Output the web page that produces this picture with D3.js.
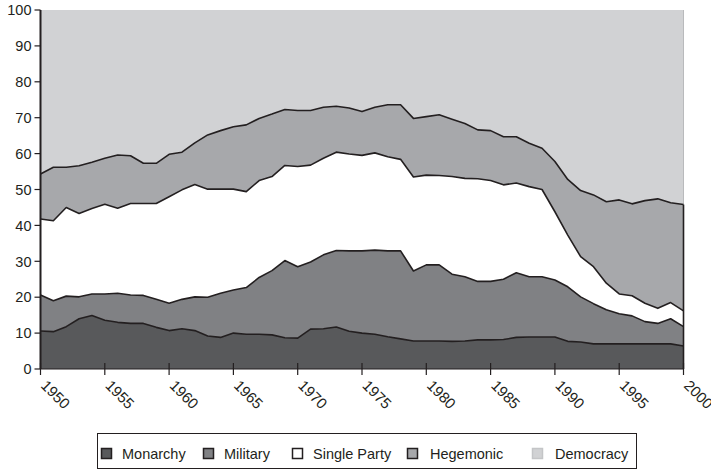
<!DOCTYPE html>
<meta charset="utf-8">
<html>
    <head>
        <title>Regime types 1950-2000</title>
        <script src="https://d3js.org/d3.v7.min.js"></script>
        <style>
            body {
              margin: 0;
              background: #ffffff;
              font-family: "Liberation Sans", Arial, Helvetica, sans-serif;
            }
            text {
              fill: #231f20;
            }
        </style>
    </head>
    <body>
        <div id="chart"></div>
        <script>
            // share of countries by regime type, 1950-2000
            var years = d3.range(1950, 2001);
            var monarchy = [10.6, 10.4, 11.8, 14.0, 14.9, 13.6, 13.0, 12.7, 12.7, 11.6,
                            10.7, 11.2, 10.7, 9.2, 8.8, 10.0, 9.7, 9.7, 9.5, 8.7,
                            8.6, 11.1, 11.2, 11.7, 10.5, 10.0, 9.7, 9.0, 8.4, 7.8,
                            7.8, 7.8, 7.7, 7.8, 8.1, 8.1, 8.2, 8.8, 8.9, 8.9,
                            8.9, 7.7, 7.5, 7.0, 7.0, 7.0, 7.0, 7.0, 7.0, 7.0, 6.4];
            var military = [10.0, 8.6, 8.5, 6.1, 6.0, 7.3, 8.1, 7.9, 7.8, 7.8,
                            7.6, 8.2, 9.4, 10.8, 12.3, 12.0, 13.0, 15.8, 17.9, 21.5,
                            19.9, 18.7, 20.6, 21.3, 22.4, 22.9, 23.4, 23.9, 24.5, 19.5,
                            21.2, 21.2, 18.7, 17.9, 16.3, 16.3, 16.8, 18.0, 16.8, 16.8,
                            15.9, 15.2, 12.6, 11.2, 9.5, 8.4, 7.8, 6.2, 5.7, 7.0, 5.4];
            var singleParty = [21.2, 22.3, 24.7, 23.2, 23.8, 25.0, 23.7, 25.5, 25.6, 26.7,
                            29.7, 30.5, 31.3, 30.1, 29.0, 28.1, 26.7, 27.0, 26.2, 26.5,
                            27.9, 27.0, 26.9, 27.4, 27.0, 26.6, 27.1, 26.2, 25.5, 26.2,
                            25.0, 24.9, 27.2, 27.4, 28.6, 28.1, 26.3, 25.0, 25.1, 24.3,
                            19.0, 14.4, 11.2, 10.3, 7.4, 5.5, 5.6, 5.1, 4.2, 4.5, 4.4];
            var hegemonic = [12.5, 14.9, 11.2, 13.3, 12.9, 12.8, 14.8, 13.3, 11.2, 11.2,
                            11.8, 10.5, 11.6, 15.1, 16.3, 17.4, 18.6, 17.3, 17.4, 15.6,
                            15.6, 15.2, 14.2, 12.8, 12.8, 12.2, 12.7, 14.5, 15.2, 16.3,
                            16.3, 16.9, 16.0, 15.3, 13.6, 13.9, 13.4, 12.9, 12.1, 11.5,
                            14.0, 15.5, 18.4, 20.0, 22.7, 26.2, 25.6, 28.6, 30.5, 27.8, 29.6];
            var democracy = [45.7, 43.8, 43.8, 43.4, 42.4, 41.3, 40.4, 40.6, 42.7, 42.7,
                            40.2, 39.6, 37.0, 34.8, 33.6, 32.5, 32.0, 30.2, 29.0, 27.7,
                            28.0, 28.0, 27.1, 26.8, 27.3, 28.3, 27.1, 26.4, 26.4, 30.2,
                            29.7, 29.2, 30.4, 31.6, 33.4, 33.6, 35.3, 35.3, 37.1, 38.5,
                            42.2, 47.2, 50.3, 51.5, 53.4, 52.9, 54.0, 53.1, 52.6, 53.7, 54.2];
            var seriesNames = ["Monarchy", "Military", "Single Party", "Hegemonic", "Democracy"];
            var yTicks = [0, 10, 20, 30, 40, 50, 60, 70, 80, 90, 100];
            var xTicks = [1950, 1955, 1960, 1965, 1970, 1975, 1980, 1985, 1990, 1995, 2000];

            var width = 711;
            var height = 472;
            var plotLeft = 40.5, plotRight = 683.5, plotTop = 10, plotBottom = 369;

            var colors = ["#58595b", "#808184", "#ffffff", "#a7a8ab", "#d1d2d4"];
            var ink = "#231f20";

            var rows = years.map(function(yr, i) {
              return {year: yr, "Monarchy": monarchy[i], "Military": military[i],
                      "Single Party": singleParty[i], "Hegemonic": hegemonic[i],
                      "Democracy": democracy[i]};
            });

            var x = d3.scaleLinear().domain([1950, 2000]).range([plotLeft, plotRight]);
            var y = d3.scaleLinear().domain([0, 100]).range([plotBottom, plotTop]);

            var svg = d3.select("#chart")
                        .append("svg")
                        .attr("width", width)
                        .attr("height", height);

            var stacked = d3.stack().keys(seriesNames)(rows);
            var last = years.length - 1;

            var area = d3.area()
              .x(function(d) { return x(d.data.year); })
              .y0(function(d) { return y(d[0]); })
              .y1(function(d) { return y(Math.min(d[1], 100)); });

            svg.selectAll("path.layer")
              .data(stacked)
              .enter()
              .append("path")
              .attr("class", "layer")
              .attr("d", area)
              .attr("fill", function(d, i) { return colors[i]; })
              .attr("stroke", "none");

            // light border round the democracy block
            svg.append("path")
              .attr("d", "M" + x(2000) + "," + y(stacked[3][last][1]) + "V" + y(100))
              .attr("stroke", "#b9babc")
              .attr("stroke-width", 1)
              .attr("fill", "none");

            // dark boundary lines between layers
            var line = d3.line()
              .x(function(d) { return x(d.data.year); })
              .y(function(d) { return y(d[1]); });

            svg.selectAll("path.edge")
              .data(stacked.slice(0, 4))
              .enter()
              .append("path")
              .attr("class", "edge")
              .attr("d", line)
              .attr("fill", "none")
              .attr("stroke", ink)
              .attr("stroke-width", 1.6)
              .attr("stroke-linejoin", "round");

            svg.append("line")
              .attr("x1", x(2000)).attr("x2", x(2000))
              .attr("y1", y(0)).attr("y2", y(stacked[3][last][1]))
              .attr("stroke", ink)
              .attr("stroke-width", 1.6);

            // y axis
            var yAxis = svg.append("g").attr("transform", "translate(" + plotLeft + ",0)");
            yAxis.append("line")
              .attr("y1", y(0)).attr("y2", y(100))
              .attr("stroke", ink).attr("stroke-width", 2);
            yAxis.selectAll("line.tick")
              .data(yTicks).enter().append("line")
              .attr("class", "tick")
              .attr("x1", -6).attr("x2", 0)
              .attr("y1", function(d) { return y(d); })
              .attr("y2", function(d) { return y(d); })
              .attr("stroke", ink).attr("stroke-width", 1.2);
            yAxis.selectAll("text")
              .data(yTicks).enter().append("text")
              .attr("x", -9)
              .attr("y", function(d) { return y(d); })
              .attr("dy", "0.36em")
              .attr("text-anchor", "end")
              .style("font-size", "14.5px")
              .text(function(d) { return d; });

            // x axis
            var xAxis = svg.append("g").attr("transform", "translate(0," + plotBottom + ")");
            xAxis.append("line")
              .attr("x1", plotLeft).attr("x2", plotRight)
              .attr("stroke", ink).attr("stroke-width", 1);
            xAxis.selectAll("line.tick")
              .data(xTicks).enter().append("line")
              .attr("class", "tick")
              .attr("x1", function(d) { return x(d); })
              .attr("x2", function(d) { return x(d); })
              .attr("y1", -6).attr("y2", 6)
              .attr("stroke", ink).attr("stroke-width", 1.2);
            xAxis.selectAll("text")
              .data(xTicks).enter().append("text")
              .attr("transform", function(d) { return "translate(" + (x(d) + 7) + ",10) rotate(45)"; })
              .attr("dy", "0.7em")
              .attr("text-anchor", "start")
              .style("font-size", "15px")
              .text(function(d) { return d; });

            // legend
            var legend = svg.append("g").attr("class", "legend");
            legend.append("rect")
              .attr("x", 97.5).attr("y", 433.5)
              .attr("width", 539).attr("height", 35)
              .attr("fill", "#ffffff")
              .attr("stroke", ink).attr("stroke-width", 1);

            var swatchX = [101, 203, 292, 407, 532];
            var item = legend.selectAll("g.item")
              .data(seriesNames).enter().append("g")
              .attr("class", "item")
              .attr("transform", function(d, i) { return "translate(" + swatchX[i] + ",448)"; });
            item.append("rect")
              .attr("x", 0.5).attr("y", 0.5)
              .attr("width", 10).attr("height", 10)
              .attr("fill", function(d, i) { return colors[i]; })
              .attr("stroke", function(d, i) { return i == 4 ? "#c4c5c7" : ink; })
              .attr("stroke-width", 1.5);
            item.append("text")
              .attr("x", function(d, i) { return i == 3 || i == 4 ? 23 : 21; })
              .attr("y", 5.5)
              .attr("dy", "0.36em")
              .style("font-size", "14.5px")
              .text(function(d) { return d; });
        </script>
    </body>
</html>
